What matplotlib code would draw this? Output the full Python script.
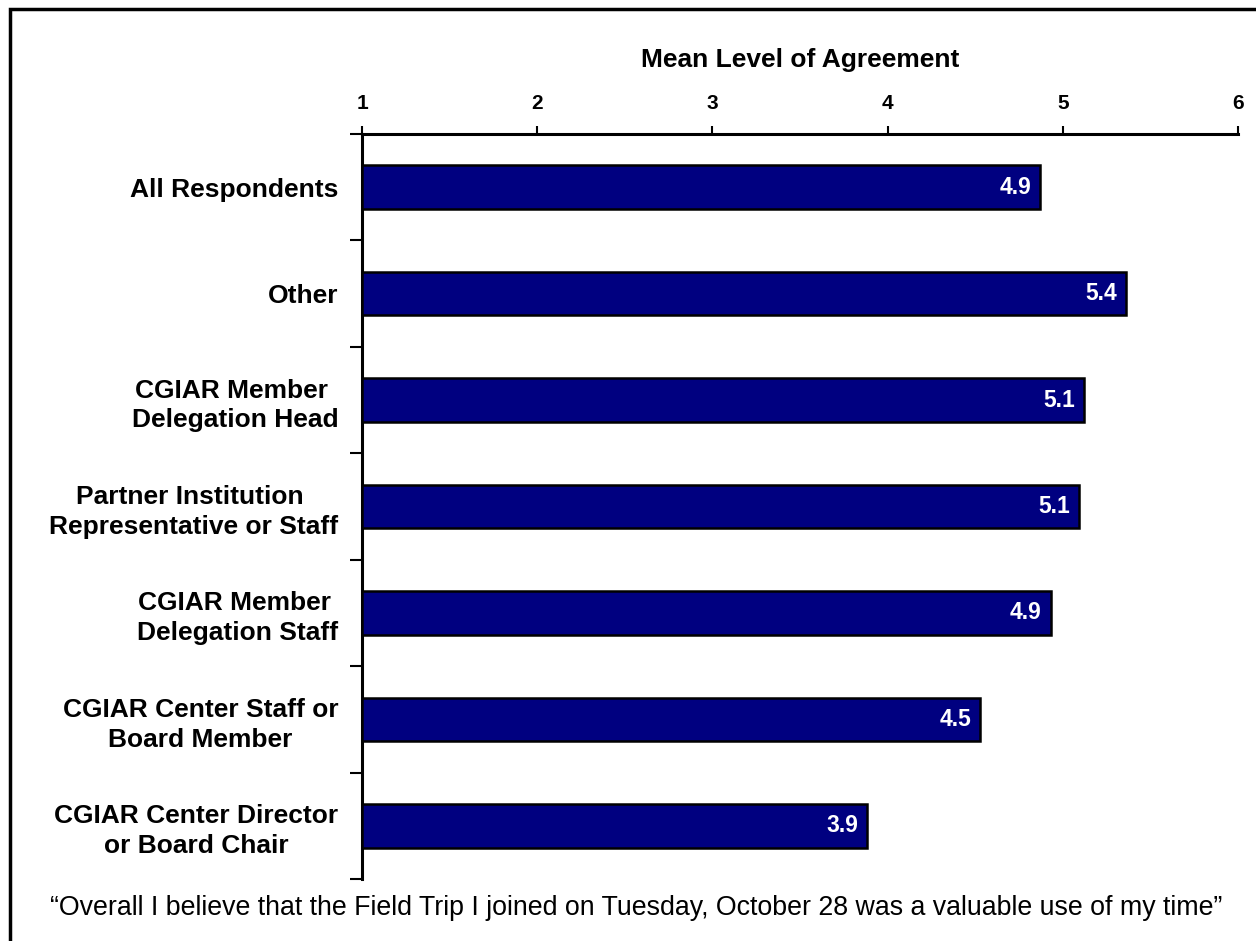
import matplotlib.pyplot as plt
from matplotlib.patches import Rectangle
from matplotlib.ticker import FixedLocator

categories = [
    "All Respondents",
    "Other",
    "CGIAR Member \nDelegation Head",
    "Partner Institution \nRepresentative or Staff",
    "CGIAR Member \nDelegation Staff",
    "CGIAR Center Staff or\nBoard Member",
    "CGIAR Center Director\nor Board Chair",
]
values = [4.87, 5.36, 5.12, 5.09, 4.93, 4.53, 3.88]
value_labels = ["4.9", "5.4", "5.1", "5.1", "4.9", "4.5", "3.9"]
x_ticks = [1, 2, 3, 4, 5, 6]

plt.rcParams["font.family"] = ["Liberation Sans", "DejaVu Sans"]

fig = plt.figure(figsize=(12.56, 9.41), dpi=100)
ax = fig.add_axes([362 / 1256, 1 - 879 / 941, 876 / 1256, 745 / 941])

pos = list(range(len(categories)))
ax.barh(pos, [v - 1 for v in values], left=1, height=0.41,
        color="#000080", edgecolor="black", linewidth=1.8, zorder=3)
for p, v, lab in zip(pos, values, value_labels):
    ax.text(v - 0.05, p, lab, ha="right", va="center", color="white",
            fontsize=16.5, fontweight="bold", zorder=4)

ax.set_xlim(1, 6)
ax.set_ylim(len(categories) - 0.5, -0.5)
ax.xaxis.tick_top()
ax.set_xticks(x_ticks)
ax.set_xticklabels([str(t) for t in x_ticks], fontsize=15, fontweight="bold")
ax.tick_params(axis="x", direction="out", length=6, width=1.5, pad=9)

ax.set_yticks(pos)
ax.set_yticklabels(categories, fontsize=19, fontweight="bold",
                   multialignment="center", linespacing=1.3)
ax.tick_params(axis="y", which="major", length=0, pad=17)
ax.yaxis.set_minor_locator(FixedLocator([i - 0.5 for i in range(len(categories) + 1)]))
ax.tick_params(axis="y", which="minor", length=9, width=1.5, direction="out")

ax.spines["right"].set_visible(False)
ax.spines["bottom"].set_visible(False)
ax.spines["top"].set_linewidth(2.2)
ax.spines["left"].set_linewidth(2.2)

fig.text(800 / 1256, 1 - 60 / 941, "Mean Level of Agreement",
         ha="center", va="center", fontsize=19, fontweight="bold")

fig.text(636 / 1256, 1 - 915 / 941,
         "\u201cOverall I believe that the Field Trip I joined on Tuesday, "
         "October 28 was a valuable use of my time\u201d",
         ha="center", va="baseline", fontsize=19.3)

fig.patches.append(Rectangle((10 / 1256, -0.05), 1.1, 1 - 9 / 941 + 0.05,
                             transform=fig.transFigure, fill=False,
                             edgecolor="black", linewidth=2.5))

fig.savefig("out.png", dpi=100)
